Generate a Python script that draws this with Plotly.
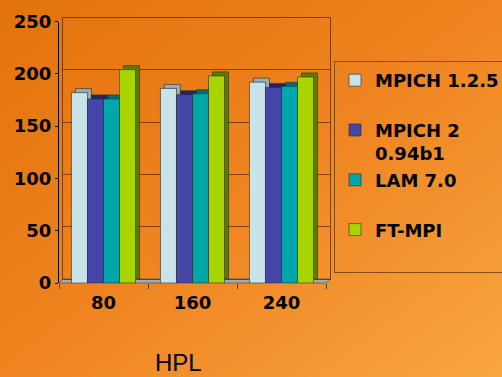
import base64
import plotly.graph_objects as go

# HPL results per process count
categories = ["80", "160", "240"]
series_names = ["MPICH 1.2.5<br> ", "MPICH 2<br>0.94b1", "LAM 7.0<br> ", "FT-MPI<br> "]
mpich125 = [182, 186, 192]
mpich2 = [176, 180, 187]
lam70 = [176, 181, 188]
ftmpi = [204, 198, 197]
y_ticks = [0, 50, 100, 150, 200, 250]

series_values = [mpich125, mpich2, lam70, ftmpi]
face_colors = ["#C8E4EA", "#4646A8", "#00A6AA", "#A8D400"]
depth_colors = ["#97AEB2", "#23236A", "#006E71", "#5E7C00"]

W, H = 502, 377
# front plane (px from left / top)
FX0, FX1, FY0, FY250 = 59, 326, 283, 21.5
DEPTH = 4  # 3-D depth offset of the back plane, in px


def px_x(v):
    return v / W


def px_y(v):
    return (H - v) / H


BOLD = dict(family="DejaVu Sans", size=18, color="black", weight="bold")

fig = go.Figure()

# back plane: bar depth faces
for name, vals, col in zip(series_names, series_values, depth_colors):
    fig.add_trace(go.Bar(
        x=categories, y=vals, xaxis="x", yaxis="y", showlegend=False,
        marker=dict(color=col, line=dict(color="#2a2a2a", width=0.6)),
        hoverinfo="skip",
    ))

# front plane: bar faces
for name, vals, col in zip(series_names, series_values, face_colors):
    fig.add_trace(go.Bar(
        x=categories, y=vals, xaxis="x2", yaxis="y2", name=name,
        marker=dict(color=col, line=dict(color="#2a2a2a", width=0.6)),
    ))

svg = (
    "<svg xmlns='http://www.w3.org/2000/svg' width='502' height='377'>"
    "<defs><linearGradient id='g' x1='0' y1='0' x2='1' y2='1'>"
    "<stop offset='0' stop-color='#E3720C'/>"
    "<stop offset='0.5' stop-color='#EF8420'/>"
    "<stop offset='1' stop-color='#F8A640'/>"
    "</linearGradient></defs>"
    "<rect width='502' height='377' fill='url(#g)'/></svg>"
)
bg_src = "data:image/svg+xml;base64," + base64.b64encode(svg.encode()).decode()

wall = "rgba(105,45,0,0.8)"

fig.update_layout(
    width=W, height=H,
    margin=dict(l=0, r=0, t=0, b=0, autoexpand=False),
    paper_bgcolor="#EF8420",
    plot_bgcolor="rgba(0,0,0,0)",
    barmode="group", bargap=0.28, bargroupgap=0,
    images=[dict(source=bg_src, xref="paper", yref="paper", x=0, y=1,
                 sizex=1, sizey=1, sizing="stretch", layer="below")],
    xaxis=dict(
        domain=[px_x(FX0 + DEPTH), px_x(FX1 + DEPTH)], anchor="y",
        type="category", range=[-0.5, 2.5], showticklabels=False,
        showgrid=False, showline=True, mirror=True, linecolor=wall,
        linewidth=1, ticks="", fixedrange=True,
    ),
    yaxis=dict(
        domain=[px_y(FY0 - DEPTH), px_y(FY250 - DEPTH)], anchor="x",
        range=[0, 250], tickvals=y_ticks, showticklabels=False,
        showgrid=True, gridcolor=wall, gridwidth=1, zeroline=False,
        showline=True, mirror=True, linecolor=wall, linewidth=1,
        ticks="",
    ),
    xaxis2=dict(
        domain=[px_x(FX0), px_x(FX1)], anchor="y2",
        type="category", range=[-0.5, 2.5], tickson="boundaries",
        ticks="outside", ticklen=5, tickcolor="#444", tickwidth=1,
        ticklabelstandoff=7,
        showgrid=False, showline=False, tickfont=BOLD,
    ),
    yaxis2=dict(
        domain=[px_y(FY0), px_y(FY250)], anchor="x2",
        range=[0, 250], tickvals=y_ticks, showgrid=False, zeroline=False,
        showline=True, linecolor="black", linewidth=1,
        ticks="outside", ticklen=3, tickcolor="black", tickfont=BOLD,
    ),
    legend=dict(
        x=px_x(334), y=px_y(61), xanchor="left", yanchor="top",
        bgcolor="rgba(0,0,0,0)", bordercolor="#8A4A1A", borderwidth=1,
        font=BOLD, valign="top", traceorder="normal",
    ),
    showlegend=True,
    shapes=[dict(
        type="path", xref="paper", yref="paper", layer="below",
        path=(f"M{px_x(FX0)},{px_y(FY0)} L{px_x(FX1)},{px_y(FY0)} "
              f"L{px_x(FX1 + DEPTH)},{px_y(FY0 - DEPTH)} "
              f"L{px_x(FX0 + DEPTH)},{px_y(FY0 - DEPTH)} Z"),
        fillcolor="#A9A9A9", line=dict(color="#555", width=0.8),
    )],
    annotations=[dict(
        text="HPL", xref="paper", yref="paper", x=px_x(178), y=px_y(362),
        xanchor="center", yanchor="middle", showarrow=False,
        font=dict(family="Liberation Sans", size=24, color="black"),
    )],
)

fig.write_html("out.html")
